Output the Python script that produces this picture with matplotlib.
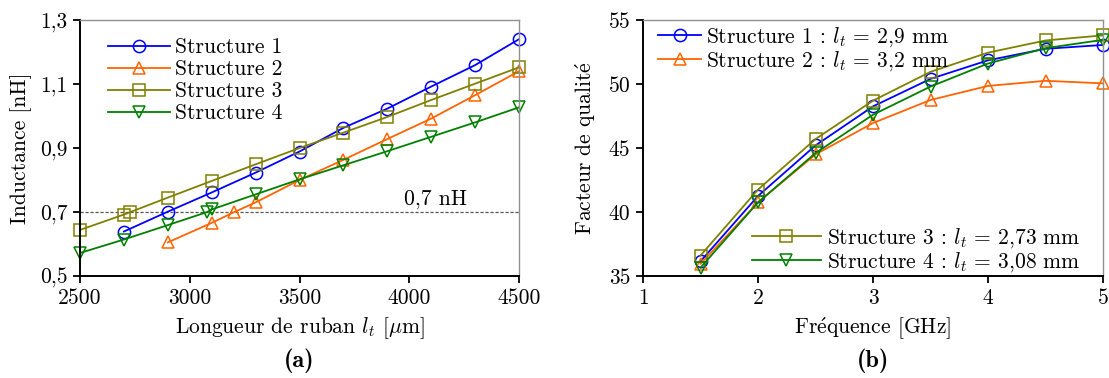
import matplotlib
matplotlib.use("Agg")
import matplotlib.pyplot as plt
from matplotlib.ticker import FuncFormatter

plt.rcParams['font.family'] = ['cmr10', 'DejaVu Serif']
plt.rcParams['mathtext.fontset'] = 'cm'
plt.rcParams['axes.unicode_minus'] = False

# ---- data (a) ----
x1 = [2700, 2900, 3100, 3300, 3500, 3700, 3900, 4100, 4300, 4500]
L1 = [0.639, 0.701, 0.761, 0.823, 0.889, 0.963, 1.023, 1.092, 1.159, 1.240]
x2 = [2900, 3100, 3200, 3300, 3500, 3700, 3900, 4100, 4300, 4500]
L2 = [0.605, 0.666, 0.699, 0.730, 0.800, 0.863, 0.928, 0.992, 1.065, 1.140]
x3 = [2500, 2700, 2730, 2900, 3100, 3300, 3500, 3700, 3900, 4100, 4300, 4500]
L3 = [0.644, 0.692, 0.700, 0.745, 0.797, 0.849, 0.900, 0.948, 0.997, 1.050, 1.101, 1.152]
x4 = [2500, 2700, 2900, 3080, 3100, 3300, 3500, 3700, 3900, 4100, 4300, 4500]
L4 = [0.572, 0.614, 0.659, 0.700, 0.708, 0.755, 0.802, 0.846, 0.890, 0.935, 0.980, 1.027]

# ---- data (b) ----
freq = [1.5, 2, 2.5, 3, 3.5, 4, 4.5, 5]
Q1 = [36.15, 41.25, 45.2, 48.25, 50.4, 51.85, 52.75, 53.05]
Q2 = [35.95, 40.75, 44.5, 46.95, 48.75, 49.85, 50.25, 50.05]
Q3 = [36.6, 41.75, 45.7, 48.7, 50.95, 52.45, 53.4, 53.8]
Q4 = [35.65, 40.75, 44.6, 47.6, 49.8, 51.6, 52.8, 53.45]

labels_a = ['Structure 1', 'Structure 2', 'Structure 3', 'Structure 4']
labels_b = [r'Structure 1 : $l_t\,=\,$2,9 mm', r'Structure 2 : $l_t\,=\,$3,2 mm',
            r'Structure 3 : $l_t\,=\,$2,73 mm', r'Structure 4 : $l_t\,=\,$3,08 mm']

colors = ['#0000ff', '#ff6400', '#808000', '#008000']
markers = ['o', '^', 's', 'v']

FS = 15.5
fig = plt.figure(figsize=(11.09, 3.78), dpi=100)
axa = fig.add_axes([80/1109, 1-276/378, 439/1109, 256/378])
axb = fig.add_axes([643/1109, 1-276/378, 460/1109, 256/378])

def style(ax):
    for s in ['left', 'bottom']:
        ax.spines[s].set_color('black')
        ax.spines[s].set_linewidth(1.4)
    for s in ['top', 'right']:
        ax.spines[s].set_color('#909090')
        ax.spines[s].set_linewidth(1.0)
    ax.tick_params(direction='out', length=5, width=1.3, labelsize=FS, top=False, right=False, pad=4)

mk = dict(markersize=8.8, markerfacecolor='none', markeredgewidth=1.1, linewidth=1.3)

# (a)
for xs, ys, c, m, lab in zip([x1, x2, x3, x4], [L1, L2, L3, L4], colors, markers, labels_a):
    axa.plot(xs, ys, color=c, marker=m, label=lab, markeredgecolor=c, clip_on=False, **mk)
axa.axhline(0.7, color='#555555', linestyle=(0, (2.5, 1.5)), linewidth=0.9, zorder=0)
axa.text(4120, 0.708, r'0,7 nH', fontsize=FS, ha='center', va='bottom')
axa.set_xlim(2500, 4500)
axa.set_ylim(0.5, 1.3)
axa.set_xticks([2500, 3000, 3500, 4000, 4500])
axa.set_yticks([0.5, 0.7, 0.9, 1.1, 1.3])
axa.yaxis.set_major_formatter(FuncFormatter(lambda v, p: f'{v:.1f}'.replace('.', ',')))
axa.set_xlabel(r'Longueur de ruban $l_t$ [$\mu$m]', fontsize=FS, labelpad=5)
axa.set_ylabel('Inductance [nH]', fontsize=FS, labelpad=6)
style(axa)
axa.legend(loc='upper left', frameon=False, fontsize=FS, handlelength=2.85,
           handletextpad=0.25, labelspacing=0.12, bbox_to_anchor=(0.045, 0.965), borderaxespad=0)

# (b)
hs = []
for ys, c, m, lab in zip([Q1, Q2, Q3, Q4], colors, markers, labels_b):
    h, = axb.plot(freq, ys, color=c, marker=m, label=lab, markeredgecolor=c, clip_on=False, **mk)
    hs.append(h)
axb.set_xlim(1, 5)
axb.set_ylim(35, 55)
axb.set_xticks([1, 2, 3, 4, 5])
axb.set_yticks([35, 40, 45, 50, 55])
axb.set_xlabel(r'Fr$\mathrm{\acute{e}}$quence [GHz]', fontsize=FS, labelpad=5)
axb.set_ylabel(r'Facteur de qualit$\mathrm{\acute{e}}$', fontsize=FS, labelpad=8)
style(axb)
leg1 = axb.legend(handles=hs[:2], loc='upper left', frameon=False, fontsize=FS, handlelength=2.0,
                  handletextpad=0.2, labelspacing=0.0, bbox_to_anchor=(0.01, 1.02), borderaxespad=0.1)
axb.add_artist(leg1)
axb.legend(handles=hs[2:], loc='lower right', frameon=False, fontsize=FS, handlelength=3.2,
           handletextpad=0.3, labelspacing=0.0, bbox_to_anchor=(0.97, -0.025), borderaxespad=0)

fig.text((80 + 519) / 2 / 1109, 1 - 361/378, '(a)', fontsize=17.5, ha='center', va='center',
         family=['cmb10', 'DejaVu Serif'])
fig.text((643 + 1103) / 2 / 1109, 1 - 361/378, '(b)', fontsize=17.5, ha='center', va='center',
         family=['cmb10', 'DejaVu Serif'])

fig.savefig('out.png', dpi=100)
